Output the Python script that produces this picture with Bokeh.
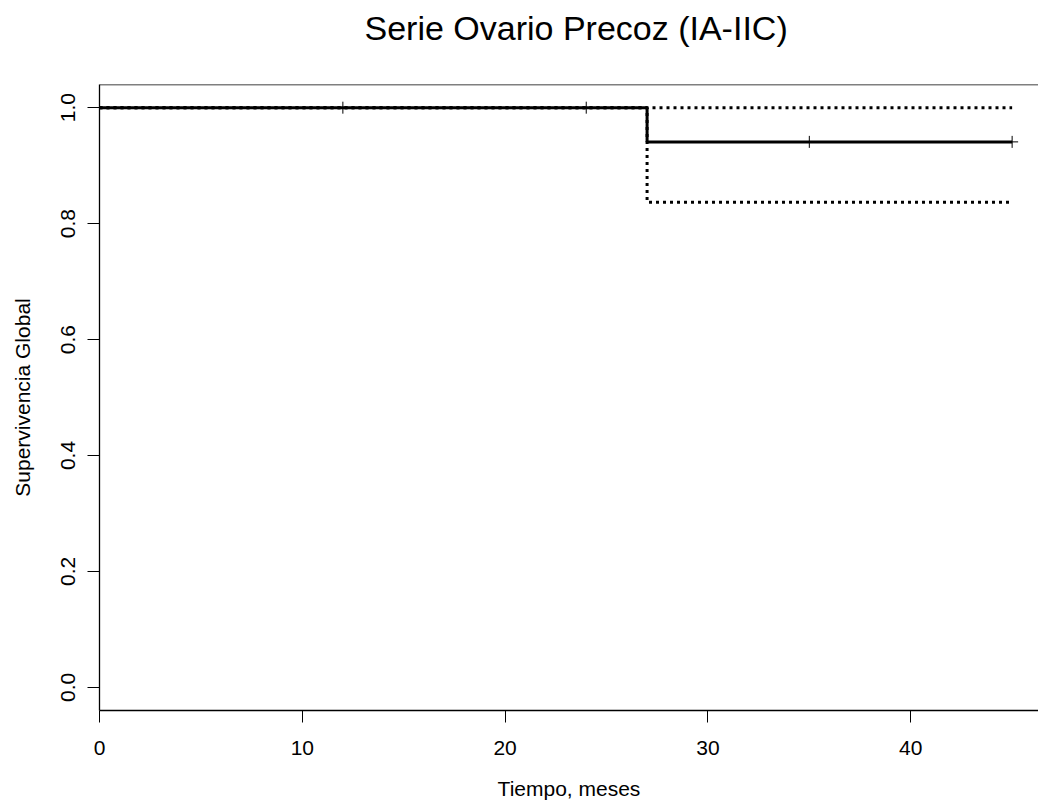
from bokeh.plotting import figure
from bokeh.models import Range1d, FixedTicker, Span, CustomJSTickFormatter, Title
from bokeh.embed import file_html
from bokeh.resources import INLINE

# Kaplan-Meier estimate (step function) and 95% confidence band
times = [0, 27, 45]
surv = [1.0, 0.941, 0.941]
upper = [1.0, 1.0, 1.0]
lower = [1.0, 0.837, 0.837]

# censored observations (+ marks)
censor_times = [12, 24, 35, 45]
censor_surv = [1.0, 1.0, 0.941, 0.941]

x_ticks = [0, 10, 20, 30, 40]
y_ticks = [0.0, 0.2, 0.4, 0.6, 0.8, 1.0]

TITLE = "Serie Ovario Precoz (IA-IIC)"
FONT = "Liberation Sans"

X0, X1 = 0, 46.3
Y0, Y1 = -0.04, 1.04

p = figure(width=1038, height=802, output_backend="svg", toolbar_location=None,
           x_range=Range1d(X0, X1), y_range=Range1d(Y0, Y1),
           min_border_left=99, min_border_right=0, min_border_top=84, min_border_bottom=92,
           title=TITLE)

p.background_fill_color = "white"
p.border_fill_color = "white"
p.outline_line_color = None
p.grid.visible = False

p.title.text_font = FONT
p.title.text_font_size = "34px"
p.title.text_font_style = "normal"
p.title.text_color = "black"
p.title.align = "left"
p.title.offset = 265
p.title.vertical_align = "top"
p.title.standoff = 16

# blank spacer panel between the title and the plot box
p.add_layout(Title(text=" ", text_font_size="2px", standoff=24), "above")

# top edge of the plot box (right edge lies outside the picture)
p.add_layout(Span(location=Y1, dimension="width", line_color="black", line_width=1.3))

for ax in (p.xaxis[0], p.yaxis[0]):
    ax.axis_line_color = "black"
    ax.axis_line_width = 1.3
    ax.major_tick_line_color = "black"
    ax.major_tick_line_width = 1
    ax.major_tick_out = 12
    ax.major_tick_in = 0
    ax.minor_tick_line_color = None
    ax.major_label_text_font = FONT
    ax.major_label_text_font_size = "21px"
    ax.major_label_text_color = "black"
    ax.axis_label_text_font = FONT
    ax.axis_label_text_font_size = "21px"
    ax.axis_label_text_font_style = "normal"
    ax.axis_label_text_color = "black"

p.xaxis.ticker = FixedTicker(ticks=x_ticks)
p.yaxis.ticker = FixedTicker(ticks=y_ticks)
p.yaxis.formatter = CustomJSTickFormatter(code="return tick.toFixed(1);")
p.yaxis.major_label_orientation = "vertical"
p.xaxis.major_label_standoff = 18
p.yaxis.major_label_standoff = 12
p.xaxis.axis_label = "Tiempo, meses"
p.yaxis.axis_label = "Supervivencia Global"
p.xaxis.axis_label_standoff = 19
p.yaxis.axis_label_standoff = 25

# confidence band (dotted)
p.step(times, upper, mode="after", line_color="black", line_width=3, line_dash="3 4")
p.step(times, lower, mode="after", line_color="black", line_width=3, line_dash="3 4")
# survival curve
p.step(times, surv, mode="after", line_color="black", line_width=3)
# censor marks
p.scatter(censor_times, censor_surv, marker="cross", size=12, line_color="black", line_width=1)

open("out.html", "w").write(file_html(p, INLINE))
